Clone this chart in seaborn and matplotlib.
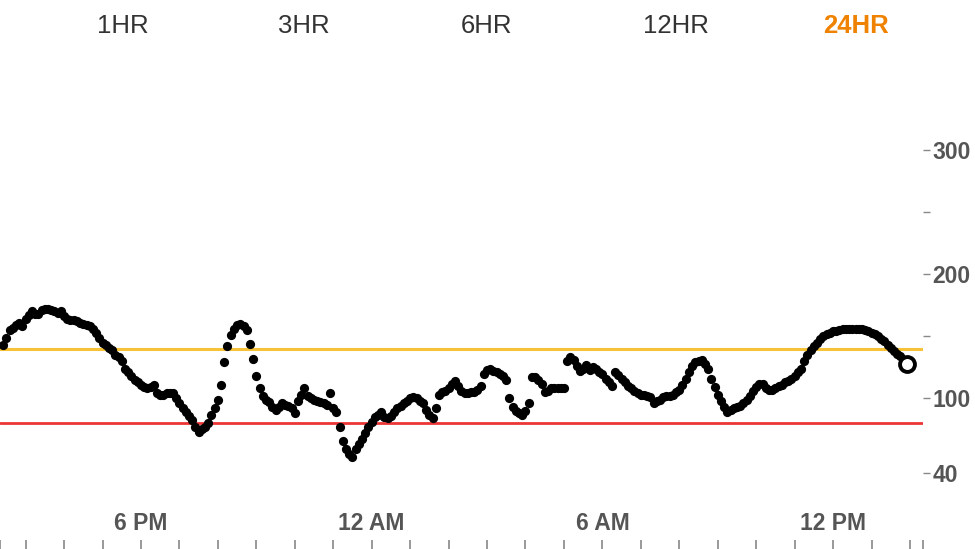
import numpy as np
import pandas as pd
import matplotlib
matplotlib.use("Agg")
import matplotlib.pyplot as plt
import seaborn as sns

# ---------------- data ----------------
tabs = ["1HR", "3HR", "6HR", "12HR", "24HR"]
active_tab = "24HR"

start_hour = 14 + 25 / 60          # first reading 2:25 PM
interval_min = 5                   # CGM reading every 5 minutes

glucose = [
    # 14:25 - 14:55
    143, 149, 155, 157, 159, 161, 158,
    # 15:00
    164, 167, 170, 168, 168, 171, 172, 172, 171, 170, 169, 170,
    # 16:00
    166, 164, 163, 163, 162, 161, 160, 159, 158, 156, 153, 149,
    # 17:00
    145, 143, 141, 139, 135, 133, 130, 124, 121, 118, 115, 113,
    # 18:00
    111, 109, 108, 109, 111, 104, 103, 103, 104, 104, 104, 100,
    # 19:00
    96, 92, 89, 86, 83, 77, 73, 75, 77, 80, 87, 92,
    # 20:00
    99, 111, 129, 142, 151, 156, 159, 160, 158, 155, 144, 132,
    # 21:00
    118, 108, 102, 99, 97, 93, 91, 93, 96, 95, 94, 92,
    # 22:00
    88, 98, 103, 108, 102, 100, 99, 98, 97, 96, 95, 104,
    # 23:00
    92, 89, 77, 66, 59, 55, 53, 59, 63, 67, 72, 77,
    # 00:00
    81, 85, 87, 89, 85, 84, 86, 89, 92, 94, 96, 98,
    # 01:00
    100, 101, 100, 98, 96, 91, 87, 84, 92, 103, 105, 106,
    # 02:00
    108, 112, 114, 110, 106, 104, 104, 105, 105, 107, 110, 120,
    # 03:00
    123, 124, 122, 121, 120, 118, 115, 100, 93, 90, 88, 87,
    # 04:00
    90, 96, 117, 117, 115, 112, 105, 106, 108, 108, 108, 108,
    # 05:00
    108, 130, 133, 131, 126, 122, 124, 127, 123, 125, 124, 121,
    # 06:00
    120, 116, 113, 110, 121, 119, 116, 113, 110, 108, 106, 104,
    # 07:00
    103, 103, 102, 101, 96, 98, 99, 101, 102, 102, 103, 105,
    # 08:00
    107, 111, 116, 121, 126, 129, 130, 131, 128, 124, 116, 109,
    # 09:00
    103, 98, 93, 89, 91, 92, 93, 94, 96, 99, 102, 106,
    # 10:00
    109, 112, 112, 108, 107, 107, 108, 110, 111, 113, 114, 116,
    # 11:00
    118, 121, 124, 130, 135, 139, 142, 145, 148, 150, 152, 153,
    # 12:00
    154, 154, 155, 156, 156, 156, 156, 156, 156, 156, 155, 154,
    # 13:00
    153, 152, 150, 148, 146, 143, 141, 138, 136, 134, 131, 128,
]

high_limit = 140
low_limit = 80

y_ticks = [40, 100, 200, 300]
y_minor_ticks = [150, 250]

x_label_hours = [18, 24, 30, 36]
x_labels = ["6 PM", "12 AM", "6 AM", "12 PM"]

window_start = 14 + 20 / 60
window_end = window_start + 24

df = pd.DataFrame({
    "hour": start_hour + np.arange(len(glucose)) * interval_min / 60,
    "glucose": glucose,
})

# ---------------- style ----------------
sns.set_theme(style="white")
plt.rcParams["font.family"] = ["Liberation Sans", "DejaVu Sans"]

GRAY = "#555555"
YELLOW = "#F6C338"
RED = "#EC3535"
ORANGE = "#EF8200"

W, H = 975, 549
fig = plt.figure(figsize=(W / 100, H / 100), dpi=100)
ax_left, ax_right = 0 / W, 922.8 / W
ax_bottom, ax_top = 9 / H, 489 / H
ax = fig.add_axes([ax_left, ax_bottom, ax_right - ax_left, ax_top - ax_bottom])

ax.axhline(high_limit, color=YELLOW, lw=2.2, zorder=1)
ax.axhline(low_limit, color=RED, lw=2.0, zorder=1)

sns.scatterplot(data=df.iloc[:-1], x="hour", y="glucose", ax=ax,
                color="black", s=44, linewidth=0, zorder=3, legend=False)
last = df.iloc[[-1]]
sns.scatterplot(data=last, x="hour", y="glucose", ax=ax,
                color="white", edgecolor="black", s=115, linewidth=2.8,
                zorder=4, legend=False)

ax.set_xlim(window_start, window_end)
ax.set_ylim(-14, 372.5)
for s in ax.spines.values():
    s.set_visible(False)
ax.set_xlabel("")
ax.set_ylabel("")

# y axis on the right
ax.yaxis.tick_right()
ax.set_yticks(y_ticks)
ax.set_yticklabels([str(v) for v in y_ticks], fontweight="bold",
                   fontsize=16.5, color=GRAY)
ax.set_yticks(y_minor_ticks, minor=True)
ax.tick_params(axis="y", which="both", right=True, left=False, length=5,
               width=1.0, color="#888888", pad=2)

# x axis: hourly ticks + window edge ticks, labels drawn above the ticks
hour_ticks = list(range(int(np.ceil(window_start)), int(np.floor(window_end)) + 1))
ax.set_xticks(x_label_hours)
ax.set_xticklabels(x_labels, fontweight="bold", fontsize=16.5, color=GRAY)
ax.set_xticks([h for h in hour_ticks if h not in x_label_hours] +
              [window_start, window_end], minor=True)
ax.tick_params(axis="x", which="both", bottom=True, length=6.5, width=1.2,
               color="#888888", direction="out")
ax.tick_params(axis="x", which="major", pad=-26.5)

# range tabs at top
tab_x = [123, 304, 487, 676, 856]
for t, xp in zip(tabs, tab_x):
    is_active = t == active_tab
    fig.text(xp / W, 1 - 26 / H, t, ha="center", va="center",
             fontsize=18.5, color=ORANGE if is_active else "#333333",
             fontweight="bold" if is_active else "normal",
             fontstretch="condensed")

fig.savefig("out.png", dpi=100, facecolor="white")
